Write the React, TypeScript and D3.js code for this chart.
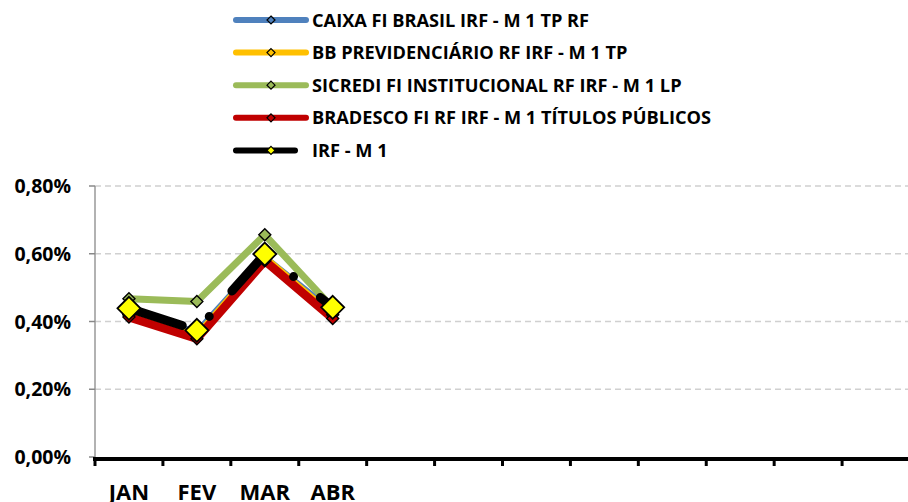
import React from "react";
import * as d3 from "d3";

const months = ["JAN", "FEV", "MAR", "ABR", "MAI", "JUN", "JUL", "AGO", "SET", "OUT", "NOV", "DEZ"];
const shownLabels = ["JAN", "FEV", "MAR", "ABR"];
const yTicks = [0, 0.002, 0.004, 0.006, 0.008];

const seriesNames = [
  "CAIXA FI BRASIL IRF - M 1 TP RF",
  "BB PREVIDENCIÁRIO RF IRF - M 1 TP",
  "SICREDI FI INSTITUCIONAL RF IRF - M 1 LP",
  "BRADESCO FI RF IRF - M 1 TÍTULOS PÚBLICOS",
  "IRF - M 1",
];
const caixa = [0.0042, 0.0037, 0.0059, 0.0043];
const bb = [0.0042, 0.0036, 0.0059, 0.0042];
const sicredi = [0.00467, 0.00459, 0.00656, 0.0044];
const bradesco = [0.00413, 0.00349, 0.00579, 0.00409];
const irfm1 = [0.00439, 0.00374, 0.00599, 0.00442];

const seriesValues = [caixa, bb, sicredi, bradesco, irfm1];
const seriesColors = ["#4f81bd", "#ffc000", "#9bbb59", "#c00000", "#000000"];

const W = 908;
const H = 502;

export default function App() {
  const x = d3.scaleBand<string>().domain(months).range([95, 910]);
  const y = d3.scaleLinear().domain([0, 0.008]).range([457, 186]);
  const cx = (i: number) => (x(months[i]) as number) + x.bandwidth() / 2;
  const line = d3
    .line<number>()
    .x((_, i) => cx(i))
    .y((d) => y(d));
  const diamond = (px: number, py: number, r: number) =>
    `M${px},${py - r}L${px + r},${py}L${px},${py + r}L${px - r},${py}Z`;
  const font = "'Open Sans', Lato, sans-serif";
  const widths = [6, 6, 7, 8.5, 9];

  return (
    <svg width={W} height={H} style={{ position: "absolute", left: 0, top: 0, background: "#fff" }}>
      {/* Legend */}
      {seriesNames.map((name, i) => {
        const ly = 20 + i * 32.6;
        const isLast = i === 4;
        return (
          <g key={name}>
            <line
              x1={236}
              x2={isLast ? 295 : 306}
              y1={ly}
              y2={ly}
              stroke={seriesColors[i]}
              strokeWidth={6}
              strokeLinecap="round"
            />
            <path
              d={diamond(271, ly, 4)}
              fill={isLast ? "#ffff00" : seriesColors[i]}
              stroke="#000"
              strokeWidth={1.2}
            />
            <text x={312} y={ly} dy="0.36em" fontFamily={font} fontWeight={700} fontSize={18.2} fill="#000">
              {name}
            </text>
          </g>
        );
      })}

      {/* Gridlines */}
      {yTicks.slice(1).map((t) => (
        <line key={t} x1={95} x2={908} y1={y(t)} y2={y(t)} stroke="#d0d0d0" strokeWidth={1.5} strokeDasharray="6,4" />
      ))}

      {/* Y axis */}
      <line x1={95} x2={95} y1={y(0.008)} y2={y(0)} stroke="#999" strokeWidth={1.5} />
      {yTicks.map((t) => (
        <g key={t}>
          <line x1={89} x2={95} y1={y(t)} y2={y(t)} stroke="#888" strokeWidth={1.5} />
          <text
            x={71}
            y={y(t)}
            dy="0.36em"
            textAnchor="end"
            fontFamily={font}
            fontWeight={700}
            fontSize={19.5}
            fill="#000"
          >
            {d3.format(".2%")(t).replace(".", ",")}
          </text>
        </g>
      ))}

      {/* X axis */}
      <line x1={93} x2={908} y1={459} y2={459} stroke="#000" strokeWidth={4} />
      {months.map((m) => (
        <line key={m} x1={x(m) as number} x2={x(m) as number} y1={459} y2={466} stroke="#000" strokeWidth={3} />
      ))}
      {shownLabels.map((m) => (
        <text
          key={m}
          x={(x(m) as number) + x.bandwidth() / 2}
          y={500}
          textAnchor="middle"
          fontFamily={font}
          fontWeight={700}
          fontSize={22}
          fill="#000"
        >
          {m}
        </text>
      ))}

      {/* Series lines */}
      {seriesValues.map((vals, i) => (
        <path
          key={i}
          d={line(vals) as string}
          fill="none"
          stroke={seriesColors[i]}
          strokeWidth={widths[i]}
          strokeLinejoin="round"
          strokeLinecap="round"
          strokeDasharray={i === 4 ? "52,34,0,34" : undefined}
          strokeDashoffset={i === 4 ? -4 : undefined}
        />
      ))}

      {/* Markers */}
      {seriesValues.map((vals, i) =>
        vals.map((v, j) =>
          i === 4 ? (
            <path key={`${i}-${j}`} d={diamond(cx(j), y(v), 11.5)} fill="#ffff00" stroke="#000" strokeWidth={1.8} />
          ) : (
            <path key={`${i}-${j}`} d={diamond(cx(j), y(v), 6)} fill={seriesColors[i]} stroke="#000" strokeWidth={1.4} />
          )
        )
      )}
    </svg>
  );
}
